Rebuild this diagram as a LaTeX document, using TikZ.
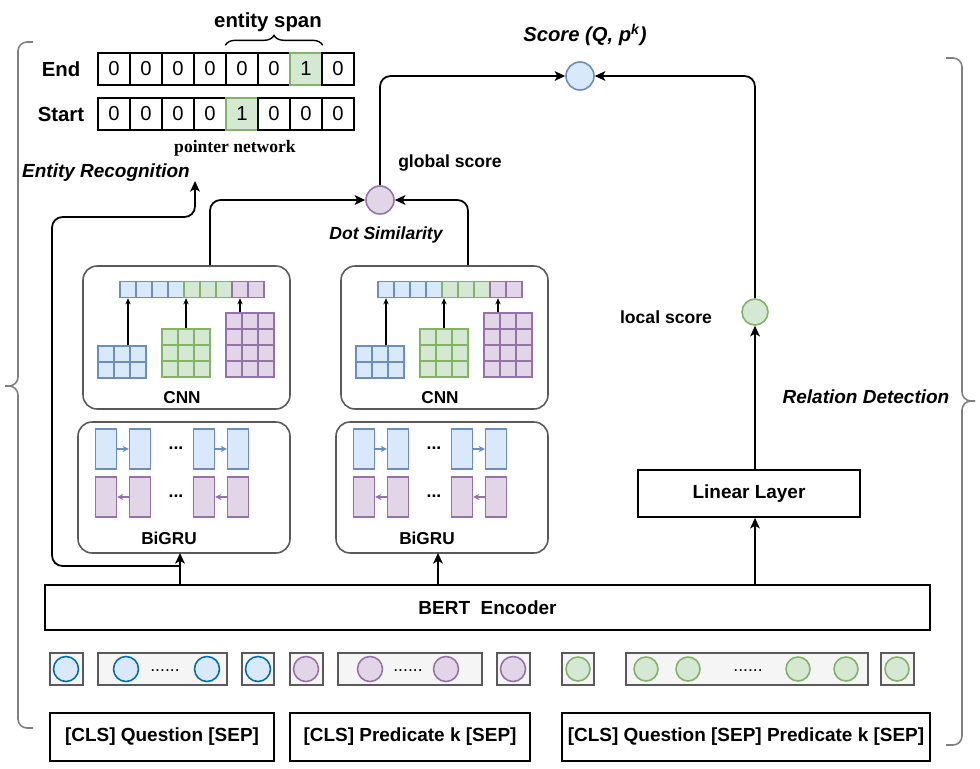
\documentclass[tikz,border=0pt]{standalone}
\usepackage{fontspec}
\setmainfont{Liberation Sans}
\newfontfamily\pointerfont{Liberation Serif}
\usetikzlibrary{
  calc, % For coordinate calculations
  arrows.meta, % For arrow tips
  decorations.pathreplacing % For the brace over the entity span
}
\definecolor{bluefill}{HTML}{DAE8FC}
\definecolor{bluedraw}{HTML}{6C8EBF}
\definecolor{greenfill}{HTML}{D5E8D4}
\definecolor{greendraw}{HTML}{82B366}
\definecolor{purplefill}{HTML}{E1D5E7}
\definecolor{purpledraw}{HTML}{9673A6}
\definecolor{tokenblue}{HTML}{006EAF}
\definecolor{tokenfill}{HTML}{F5F5F5}
\definecolor{framegray}{HTML}{5A5A5A}
\definecolor{bracegray}{HTML}{808080}

\begin{document}
\begin{tikzpicture}[
      x=0.02cm, y=-0.02cm, % pixel grid of the sketch
      >={Stealth[length=6pt,width=5.5pt,inset=1.5pt]}, % Default arrow tip
      flow/.style={->, line width=1pt, rounded corners=6pt}, % main connectors
      thinarrow/.style={-{Stealth[length=3.5pt,width=3pt]}, line width=0.7pt},
      gru/.style={-{Stealth[length=3.5pt,width=3.5pt]}, line width=0.6pt},
      big/.style={font=\fontsize{11.6}{14}\selectfont\bfseries},
      lbl/.style={font=\fontsize{10.8}{13}\selectfont\bfseries},
      small/.style={font=\fontsize{10}{12}\selectfont\bfseries},
      modlbl/.style={font=\fontsize{9.8}{12}\selectfont\bfseries},
      ttl/.style={font=\fontsize{10.8}{13}\selectfont\bfseries\itshape},
      bit/.style={draw, line width=0.8pt, minimum width=0.64cm, minimum height=0.64cm,
        inner sep=0pt, font=\fontsize{11.5}{13}\selectfont},
      hit/.style={bit, draw=greendraw, fill=greenfill},
      bcell/.style={draw=bluedraw, fill=bluefill, line width=0.8pt, minimum size=0.32cm, inner sep=0pt},
      gcell/.style={draw=greendraw, fill=greenfill, line width=0.8pt, minimum size=0.32cm, inner sep=0pt},
      pcell/.style={draw=purpledraw, fill=purplefill, line width=0.8pt, minimum size=0.32cm, inner sep=0pt},
      fwd/.style={bcell, minimum width=0.42cm, minimum height=0.8cm},
      bwd/.style={pcell, minimum width=0.42cm, minimum height=0.8cm},
      rbox/.style={draw=framegray, line width=0.9pt, rounded corners=0.28cm, inner sep=0pt},
      plain/.style={draw, line width=1pt, inner sep=0pt},
      tok/.style={draw=framegray, fill=tokenfill, line width=0.9pt, minimum height=0.64cm, inner sep=0pt},
      qdot/.style={circle, draw=tokenblue, fill=bluefill, line width=0.9pt, minimum size=0.5cm, inner sep=0pt},
      pdot/.style={circle, draw=purpledraw, fill=purplefill, line width=0.9pt, minimum size=0.5cm, inner sep=0pt},
      gdot/.style={circle, draw=greendraw, fill=greenfill, line width=0.9pt, minimum size=0.48cm, inner sep=0pt},
      brace/.style={draw=bracegray, line width=0.9pt, rounded corners=0.18cm},
    ]
    \useasboundingbox (0,0) rectangle (980,768);

    % Klammern links und rechts
    \draw[brace] (33,42) -- (18,42) -- (18,386) -- (5,386);
    \draw[brace] (33,728) -- (18,728) -- (18,386) -- (5,386);
    \draw[brace] (946,58) -- (962,58) -- (962,401) -- (975,401);
    \draw[brace] (946,745) -- (962,745) -- (962,401) -- (975,401);

    % pointer network
    \node[big] (endlbl) at (61,69) {End};
    \node[big] (startlbl) at (61,114) {Start};
    \foreach \v/\st [count=\i] in {0/bit,0/bit,0/bit,0/bit,0/bit,0/bit,1/hit,0/bit}
      \node[\st] (end\i) at ({82+32*\i},69) {\v};
    \foreach \v/\st [count=\i] in {0/bit,0/bit,0/bit,0/bit,1/hit,0/bit,0/bit,0/bit}
      \node[\st] (start\i) at ({82+32*\i},114) {\v};
    \draw[line width=0.8pt, decorate, decoration={brace, amplitude=0.2cm}]
      ([yshift=0.14cm]end5.north west) -- ([yshift=0.14cm]end7.north east);
    \node[big] (spanlbl) at (268,22) {entity span};
    \node[font=\pointerfont\fontsize{10}{12}\selectfont\bfseries] (ptrlbl) at (235,148) {pointer network};
    \node[ttl] (erlbl) at (106,173) {Entity Recognition};

    % CNN und BiGRU fuer Frage (q) und Praedikat (p)
    \foreach \nm/\dx in {q/0,p/258}{
      \begin{scope}[shift={(\dx,0)}]
        \node[rbox, minimum width=4.14cm, minimum height=2.86cm] (\nm-cnn) at (186.5,337.5) {};
        \node[modlbl] (\nm-cnnlbl) at (182,398) {CNN};
        \foreach \cl [count=\i] in {bcell,bcell,bcell,bcell,gcell,gcell,gcell,pcell,pcell}
          \node[\cl] (\nm-v\i) at ({112+16*\i},289.5) {};
        \foreach \c in {1,2,3}{
          \foreach \r in {1,2} \node[bcell] (\nm-bm\c\r) at ({90+16*\c},{338+16*\r}) {};
          \foreach \r in {1,2,3} \node[gcell] (\nm-gm\c\r) at ({154+16*\c},{321+16*\r}) {};
          \foreach \r in {1,...,4} \node[pcell] (\nm-pm\c\r) at ({218+16*\c},{305+16*\r}) {};
        }
        \draw[thinarrow] (\nm-bm21.north -| \nm-v1) -- (\nm-v1.south);
        \draw[thinarrow] (\nm-gm21.north) -- (\nm-gm21 |- \nm-v5.south);
        \draw[thinarrow] (\nm-pm21.north -| \nm-v8) -- (\nm-v8.south);
        % BiGRU
        \node[rbox, minimum width=4.24cm, minimum height=2.62cm] (\nm-gru) at (184,487.5) {};
        \node[modlbl] (\nm-grulbl) at (169,538) {BiGRU};
        \foreach \xx [count=\i] in {106,140,204,238}{
          \node[fwd] (\nm-f\i) at (\xx,449) {};
          \node[bwd] (\nm-b\i) at (\xx,497) {};
        }
        \node[small, inner sep=0pt] (\nm-fdots) at (176,448) {...};
        \node[small, inner sep=0pt] (\nm-bdots) at (176,496) {...};
        \draw[gru, bluedraw] (\nm-f1) -- (\nm-f2);
        \draw[gru, bluedraw] (\nm-f3) -- (\nm-f4);
        \draw[gru, purpledraw] (\nm-b2) -- (\nm-b1);
        \draw[gru, purpledraw] (\nm-b4) -- (\nm-b3);
        \coordinate (\nm-in) at (180,553);
      \end{scope}
    }

    % Scores
    \node[circle, draw=purpledraw, fill=purplefill, line width=0.9pt, minimum size=0.56cm, inner sep=0pt] (dot) at (380,200) {};
    \node[circle, draw=bluedraw, fill=bluefill, line width=0.9pt, minimum size=0.56cm, inner sep=0pt] (score) at (580,76) {};
    \node[circle, draw=greendraw, fill=greenfill, line width=0.9pt, minimum size=0.52cm, inner sep=0pt] (local) at (755,312) {};
    \node[font=\fontsize{11.5}{14}\selectfont\bfseries\itshape] (scorelbl) at (585,35) {Score (Q, p\textsuperscript{k})};
    \node[small] (globallbl) at (450,163) {global score};
    \node[font=\fontsize{10}{12}\selectfont\bfseries\itshape] (dotlbl) at (386,235) {Dot Similarity};
    \node[small] (locallbl) at (666,317) {local score};
    \node[ttl] (rdlbl) at (866,397) {Relation Detection};

    % Encoder und Linear Layer
    \node[plain, lbl, minimum width=17.7cm, minimum height=0.9cm] (bert) at (487.5,607.5) {BERT~~Encoder};
    \node[plain, lbl, minimum width=4.44cm, minimum height=0.94cm] (linear) at (749,493.5) {Linear Layer};

    % Token
    \node[tok, minimum width=0.66cm] (t1) at (66.5,669) {};
    \node[tok, minimum width=2.58cm] (t2) at (162.5,669) {};
    \node[tok, minimum width=0.64cm] (t3) at (258,669) {};
    \node[tok, minimum width=0.66cm] (t4) at (306.5,669) {};
    \node[tok, minimum width=2.88cm] (t5) at (410,669) {};
    \node[tok, minimum width=0.66cm] (t6) at (513.5,669) {};
    \node[tok, minimum width=0.64cm] (t7) at (578,669) {};
    \node[tok, minimum width=4.84cm] (t8) at (747,669) {};
    \node[tok, minimum width=0.66cm] (t9) at (897.5,669) {};
    \foreach \xx [count=\i] in {66,126,207,258} \node[qdot] (qtok\i) at (\xx,669) {};
    \foreach \xx [count=\i] in {306,370,446,513} \node[pdot] (ptok\i) at (\xx,669) {};
    \foreach \xx [count=\i] in {578,646,688,798,846,897} \node[gdot] (gtok\i) at (\xx,669) {};
    \node (qdots) at (165,671) {......};
    \node (pdots) at (408,671) {......};
    \node (gdots) at (748,671) {......};

    % Eingaben
    \node[plain, lbl, minimum width=4.48cm, minimum height=0.96cm] (qtext) at (162,737) {[CLS] Question [SEP]};
    \node[plain, lbl, minimum width=4.8cm, minimum height=0.96cm] (ptext) at (410,737) {[CLS] Predicate k [SEP]};
    \node[plain, lbl, minimum width=7.36cm, minimum height=0.96cm] (qptext) at (746,737) {[CLS] Question [SEP] Predicate k [SEP]};

    % Verbindungen
    \foreach \nm in {q,p} \draw[flow] (bert.north -| \nm-in) -- (\nm-in);
    \draw[flow] (bert.north -| local) -- (local |- linear.south);
    \draw[flow] (local |- linear.north) -- (local.south);
    \draw[flow] ([xshift=0.47cm]q-cnn.north) |- (dot.west);
    \draw[flow] ([xshift=0.47cm]p-cnn.north) |- (dot.east);
    \draw[flow] (dot.north) |- (score.west);
    \draw[flow] (local.north) |- (score.east);
    \coordinate (erfork) at (180,566);
    \coordinate (ertip) at (195,181);
    \draw[flow] (erfork) -- (52,566) -- (52,217) -| (ertip);

  \end{tikzpicture}
\end{document}
